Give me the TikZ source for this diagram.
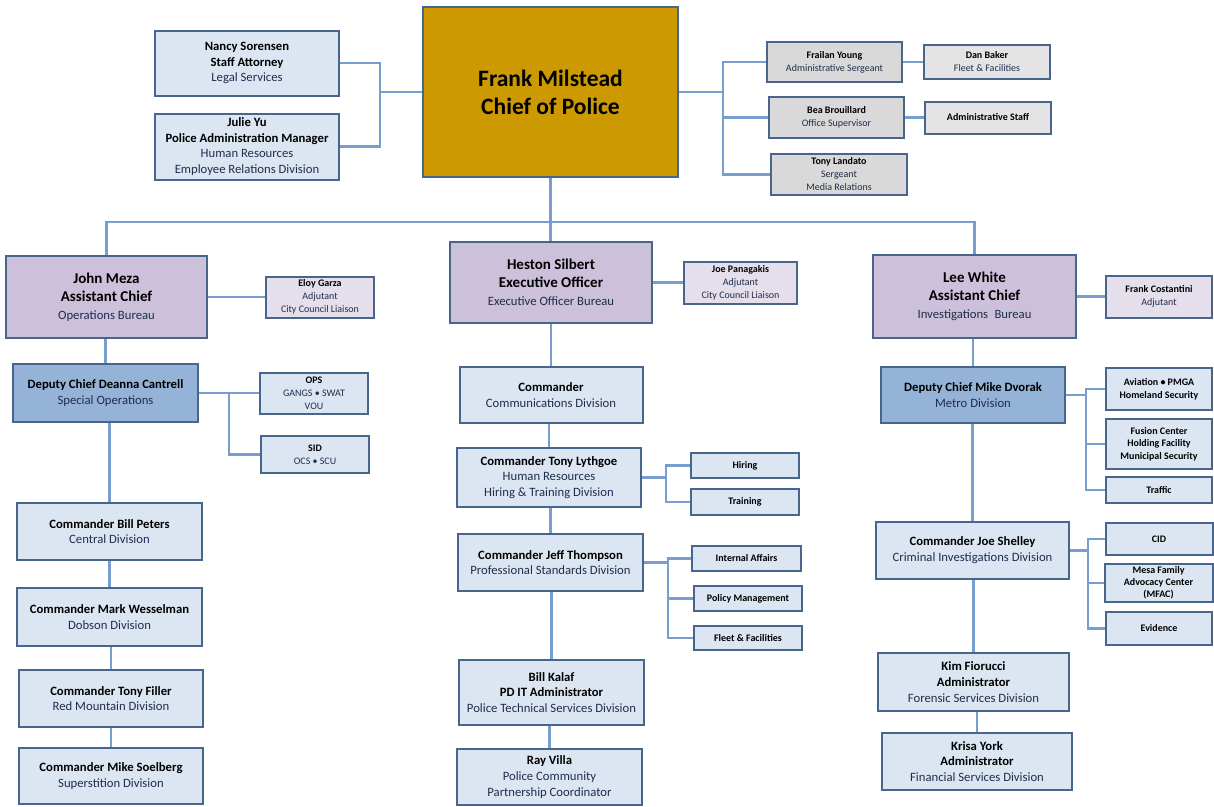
\documentclass[tikz,border=0pt]{standalone}
\usepackage{fontspec}
\setmainfont{Carlito}
\usetikzlibrary{shadows,backgrounds}
\definecolor{bfill}{HTML}{DCE6F2}
\definecolor{dfill}{HTML}{95B3D7}
\definecolor{pfill}{HTML}{CCC0DA}
\definecolor{lfill}{HTML}{E5DFEC}
\definecolor{gfill}{HTML}{D9D9D9}
\definecolor{g2fill}{HTML}{E4E4E4}
\definecolor{gold}{HTML}{CC9900}
\definecolor{bord}{HTML}{48668C}
\definecolor{conn}{HTML}{779ECE}
\definecolor{txt}{HTML}{1F2D4D}
\newcommand\Bln[1]{\textbf{#1}}
\newcommand\Rln[1]{{\color{txt}#1}}
\tikzset{
  bx/.style={draw=bord, line width=2pt, fill=bfill, align=center, inner sep=0pt,
    drop shadow={shadow xshift=1.2pt, shadow yshift=-1.2pt, opacity=0.25, fill=black}},
  fbig/.style={font=\fontsize{15}{18}\selectfont},
  fmed/.style={font=\fontsize{12.7}{15.8}\selectfont},
  fsm/.style={font=\fontsize{10}{13}\selectfont},
  cn/.style={draw=conn, line width=2.2pt},
}
\begin{document}
\begin{tikzpicture}[x=1pt,y=-1pt]
\useasboundingbox (0,0) rectangle (1214,806);
% chief
\node[bx, fill=gold, minimum width=255, minimum height=170, font=\fontsize{23.5}{28}\selectfont] (chief) at (550.5,92) {\Bln{Frank Milstead}\\\Bln{Chief of Police}};
% top left
\node[bx, fmed, minimum width=184, minimum height=65] (nancy) at (247,63) {\Bln{Nancy Sorensen}\\\Bln{Staff Attorney}\\\Rln{Legal Services}};
\node[bx, fmed, minimum width=184, minimum height=66] (julie) at (247,146.5) {\Bln{Julie Yu}\\\Bln{Police Administration Manager}\\\Rln{Human Resources}\\\Rln{Employee Relations Division}};
% top right
\node[bx, fsm, fill=gfill, minimum width=135, minimum height=40] (frailan) at (834.5,62) {\Bln{Frailan Young}\\\Rln{Administrative Sergeant}};
\node[bx, fsm, fill=g2fill, minimum width=126, minimum height=34] (dan) at (987,62) {\Bln{Dan Baker}\\\Rln{Fleet \& Facilities}};
\node[bx, fsm, fill=gfill, minimum width=135, minimum height=41] (bea) at (836.5,117.5) {\Bln{Bea Brouillard}\\\Rln{Office Supervisor}};
\node[bx, fsm, fill=g2fill, minimum width=126, minimum height=32] (admin) at (988,117.5) {\Bln{Administrative Staff}};
\node[bx, fsm, fill=gfill, minimum width=136, minimum height=41] (tonyl) at (839,174.5) {\Bln{Tony Landato}\\\Rln{Sergeant}\\\Rln{Media Relations}};
% level 2
\node[bx, fbig, fill=pfill, minimum width=201, minimum height=82] (john) at (106.5,297) {\Bln{John Meza}\\\Bln{Assistant Chief}\\{\fontsize{12.7}{15}\selectfont\Rln{Operations Bureau}}};
\node[bx, fbig, fill=pfill, minimum width=202, minimum height=81] (heston) at (551,282.5) {\Bln{Heston Silbert}\\\Bln{Executive Officer}\\{\fontsize{12.7}{15}\selectfont\Rln{Executive Officer Bureau}}};
\node[bx, fbig, fill=pfill, minimum width=203, minimum height=83] (lee) at (974.5,296.5) {\Bln{Lee White}\\\Bln{Assistant Chief}\\{\fontsize{12.7}{15}\selectfont\Rln{Investigations\enspace Bureau}}};
\node[bx, fsm, fill=lfill, minimum width=108, minimum height=41] (eloy) at (320,297) {\Bln{Eloy Garza}\\\Rln{Adjutant}\\\Rln{City Council Liaison}};
\node[bx, fsm, fill=lfill, minimum width=113, minimum height=42] (joe) at (740.5,282.5) {\Bln{Joe Panagakis}\\\Rln{Adjutant}\\\Rln{City Council Liaison}};
\node[bx, fsm, fill=lfill, minimum width=106, minimum height=42] (frankc) at (1159,296.5) {\Bln{Frank Costantini}\\\Rln{Adjutant}};
% left column
\node[bx, fmed, fill=dfill, minimum width=185, minimum height=58] (deanna) at (105.5,393) {\Bln{Deputy Chief Deanna Cantrell}\\\Rln{Special Operations}};
\node[bx, fsm, minimum width=108, minimum height=41] (ops) at (314,393) {\Bln{OPS}\\\Rln{GANGS • SWAT}\\\Rln{VOU}};
\node[bx, fsm, minimum width=108, minimum height=37] (sid) at (315,454.5) {\Bln{SID}\\\Rln{OCS • SCU}};
\node[bx, fmed, minimum width=185, minimum height=57] (peters) at (109.5,531.5) {\Bln{Commander Bill Peters}\\\Rln{Central Division}};
\node[bx, fmed, minimum width=185, minimum height=58] (wessel) at (109.5,617) {\Bln{Commander Mark Wesselman}\\\Rln{Dobson Division}};
\node[bx, fmed, minimum width=184, minimum height=57] (filler) at (111,698.5) {\Bln{Commander Tony Filler}\\\Rln{Red Mountain Division}};
\node[bx, fmed, minimum width=184, minimum height=56] (soel) at (111,776) {\Bln{Commander Mike Soelberg}\\\Rln{Superstition Division}};
% middle column
\node[bx, fmed, minimum width=183, minimum height=56] (comm) at (551,395) {\Bln{Commander}\\\Rln{Communications Division}};
\node[bx, fmed, minimum width=184, minimum height=59] (lyth) at (549,477.5) {\Bln{Commander Tony Lythgoe}\\\Rln{Human Resources}\\\Rln{Hiring \& Training Division}};
\node[bx, fsm, minimum width=108, minimum height=25] (hiring) at (745,465.5) {\Bln{Hiring}};
\node[bx, fsm, minimum width=108, minimum height=26] (training) at (745,502) {\Bln{Training}};
\node[bx, fmed, minimum width=185, minimum height=57] (thomp) at (550.5,562.5) {\Bln{Commander Jeff Thompson}\\\Rln{Professional Standards Division}};
\node[bx, fsm, minimum width=109, minimum height=25] (ia) at (746.5,558.5) {\Bln{Internal Affairs}};
\node[bx, fsm, minimum width=108, minimum height=25] (pm) at (748,598.5) {\Bln{Policy Management}};
\node[bx, fsm, minimum width=108, minimum height=24] (ff) at (748,638) {\Bln{Fleet \& Facilities}};
\node[bx, fmed, minimum width=185, minimum height=65] (kalaf) at (551.5,692.5) {\Bln{Bill Kalaf}\\\Bln{PD IT Administrator}\\\Rln{Police Technical Services Division}};
\node[bx, fmed, minimum width=185, minimum height=56] (villa) at (549.5,777) {\Bln{Ray Villa}\\\Rln{Police Community}\\\Rln{Partnership Coordinator}};
% right column
\node[bx, fmed, fill=dfill, minimum width=184, minimum height=56] (dvorak) at (973,395) {\Bln{Deputy Chief Mike Dvorak}\\\Rln{Metro Division}};
\node[bx, fsm, minimum width=106, minimum height=42] (aviation) at (1159,389) {\Bln{Aviation • PMGA}\\\Bln{Homeland Security}};
\node[bx, font=\fontsize{10}{12.5}\selectfont, minimum width=106, minimum height=50] (fusion) at (1159,444) {\Bln{Fusion Center}\\\Bln{Holding Facility}\\\Bln{Municipal Security}};
\node[bx, fsm, minimum width=106, minimum height=26] (traffic) at (1159,490) {\Bln{Traffic}};
\node[bx, fmed, minimum width=193, minimum height=57] (shelley) at (972.5,550.5) {\Bln{Commander Joe Shelley}\\\Rln{Criminal Investigations Division}};
\node[bx, fsm, minimum width=107, minimum height=32] (cid) at (1159,539) {\Bln{CID}};
\node[bx, font=\fontsize{10}{12}\selectfont, minimum width=108, minimum height=38] (mesa) at (1158.5,583) {\Bln{Mesa Family}\\\Bln{Advocacy Center}\\\Bln{(MFAC)}};
\node[bx, fsm, minimum width=106, minimum height=33] (evid) at (1159,628.5) {\Bln{Evidence}};
\node[bx, fmed, minimum width=191, minimum height=58] (kim) at (973.5,682) {\Bln{Kim Fiorucci}\\\Bln{Administrator}\\\Rln{Forensic Services Division}};
\node[bx, fmed, minimum width=190, minimum height=57] (krisa) at (977,761.5) {\Bln{Krisa York}\\\Bln{Administrator}\\\Rln{Financial Services Division}};
% junction coordinates
\coordinate (jl) at (380,92);
\coordinate (jr) at (723,92);
\coordinate (bus) at (550,222);
\coordinate (dt) at (229,393);
\coordinate (lt) at (666,477.5);
\coordinate (tt) at (668,562.5);
\coordinate (vt) at (1086,395);
\coordinate (st) at (1088,550.5);
% connectors behind boxes
\begin{scope}[on background layer]
\draw[cn] (chief.west |- jl) -- (jl);
\draw[cn] (nancy.east) -| (jl);
\draw[cn] (julie.east) -| (jl);
\draw[cn] (chief.east |- jr) -- (jr);
\draw[cn] (frailan.west) -| (jr);
\draw[cn] (bea.west) -| (jr);
\draw[cn] (tonyl.west) -| (jr);
\draw[cn] (frailan.east) -- (dan.west);
\draw[cn] (bea.east) -- (admin.west);
\draw[cn] (chief.south) -- (chief.south |- heston.north);
\draw[cn] (john.north) |- (bus) -| (lee.north);
\draw[cn] (john.east) -- (eloy.west);
\draw[cn] (heston.east) -- (joe.west);
\draw[cn] (lee.east) -- (frankc.west);
\draw[cn] (deanna.north) -- (deanna.north |- john.south);
\draw[cn] (deanna.east) -- (ops.west);
\draw[cn] (sid.west) -| (dt);
\draw[cn] (peters.north) -- (peters.north |- deanna.south);
\draw[cn] (wessel.north) -- (wessel.north |- peters.south);
\draw[cn] (filler.north) -- (filler.north |- wessel.south);
\draw[cn] (soel.north) -- (soel.north |- filler.south);
\draw[cn] (comm.north) -- (comm.north |- heston.south);
\draw[cn] (lyth.north) -- (lyth.north |- comm.south);
\draw[cn] (lyth.east) -- (lt);
\draw[cn] (hiring.west) -| (lt);
\draw[cn] (training.west) -| (lt);
\draw[cn] (thomp.north) -- (thomp.north |- lyth.south);
\draw[cn] (thomp.east) -- (tt);
\draw[cn] (ia.west) -| (tt);
\draw[cn] (pm.west) -| (tt);
\draw[cn] (ff.west) -| (tt);
\draw[cn] (kalaf.north) -- (kalaf.north |- thomp.south);
\draw[cn] (villa.north) -- (villa.north |- kalaf.south);
\draw[cn] (dvorak.north) -- (dvorak.north |- lee.south);
\draw[cn] (dvorak.east) -- (vt);
\draw[cn] (aviation.west) -| (vt);
\draw[cn] (fusion.west) -| (vt);
\draw[cn] (traffic.west) -| (vt);
\draw[cn] (shelley.north) -- (shelley.north |- dvorak.south);
\draw[cn] (shelley.east) -- (st);
\draw[cn] (cid.west) -| (st);
\draw[cn] (mesa.west) -| (st);
\draw[cn] (evid.west) -| (st);
\draw[cn] (kim.north) -- (kim.north |- shelley.south);
\draw[cn] (krisa.north) -- (krisa.north |- kim.south);
\end{scope}
\end{tikzpicture}
\end{document}
